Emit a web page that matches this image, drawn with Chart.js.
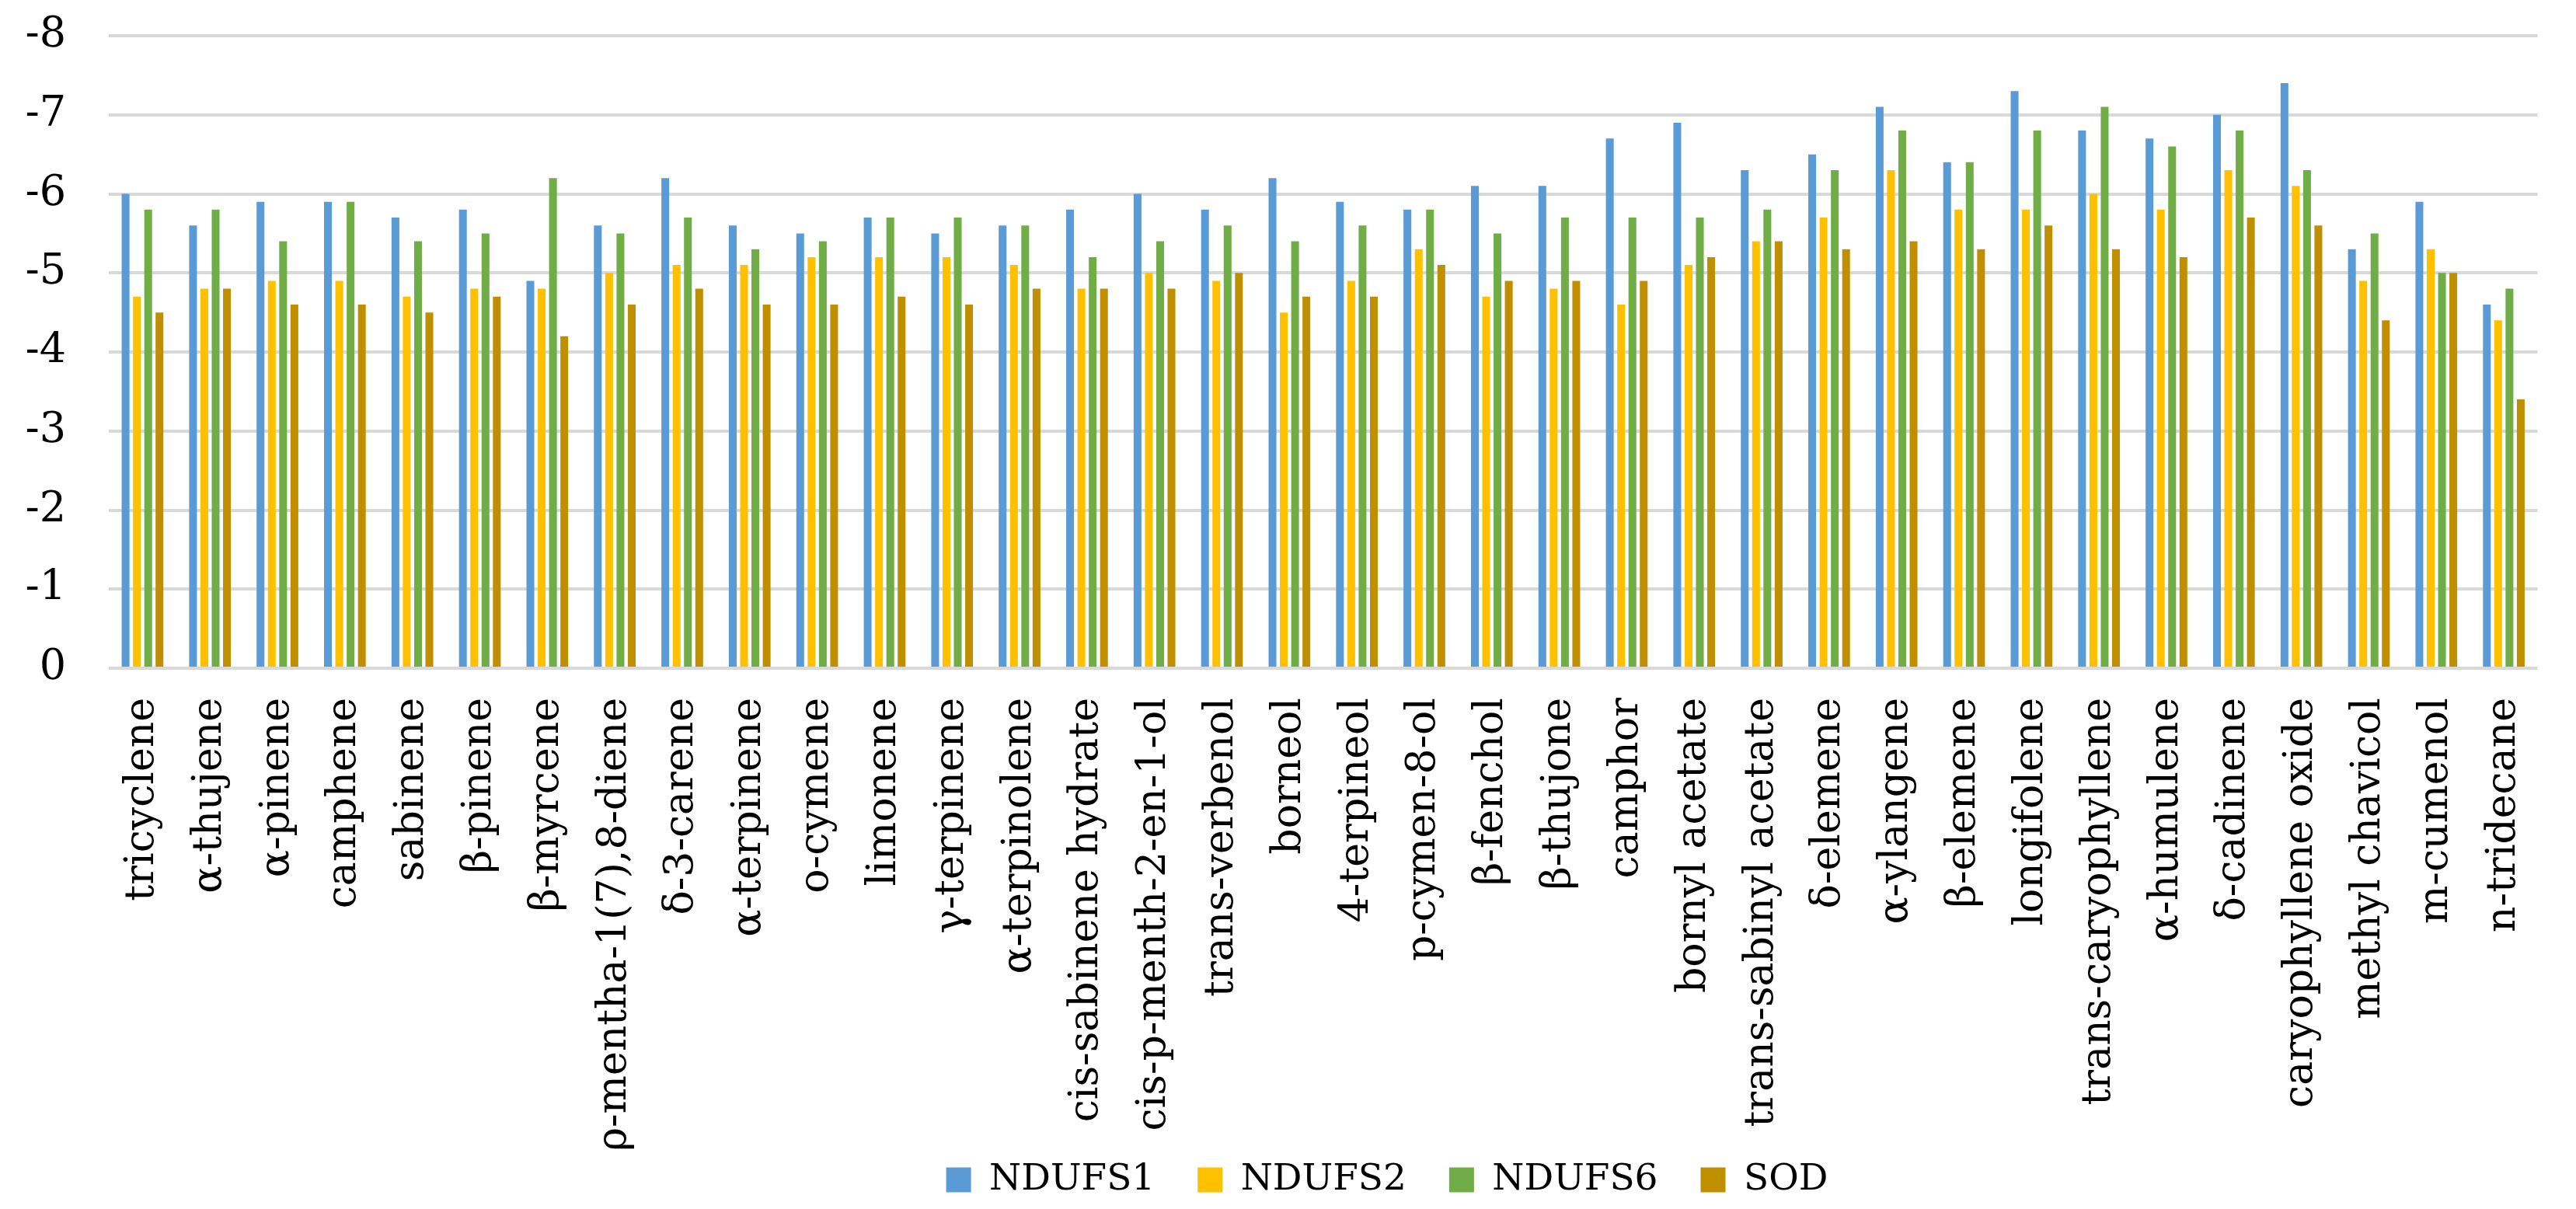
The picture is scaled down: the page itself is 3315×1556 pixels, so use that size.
<!DOCTYPE html>
<html>
<head>
<meta charset="utf-8">
<script src="https://cdn.jsdelivr.net/npm/chart.js@4"></script>
<style>
  html, body { margin: 0; padding: 0; background: #fff; }
  #wrap { width: 3315px; height: 1556px; }
</style>
</head>
<body>
<div id="wrap"><canvas id="myChart" width="3315" height="1556"></canvas></div>
<script>
// Compounds on the x axis
const compounds = [
  'tricyclene', 'α-thujene', 'α-pinene', 'camphene', 'sabinene', 'β-pinene',
  'β-myrcene', 'ρ-mentha-1(7),8-diene', 'δ-3-carene', 'α-terpinene', 'o-cymene',
  'limonene', 'γ-terpinene', 'α-terpinolene', 'cis-sabinene hydrate',
  'cis-p-menth-2-en-1-ol', 'trans-verbenol', 'borneol', '4-terpineol',
  'p-cymen-8-ol', 'β-fenchol', 'β-thujone', 'camphor', 'bornyl acetate',
  'trans-sabinyl acetate', 'δ-elemene', 'α-ylangene', 'β-elemene', 'longifolene',
  'trans-caryophyllene', 'α-humulene', 'δ-cadinene', 'caryophyllene oxide',
  'methyl chavicol', 'm-cumenol', 'n-tridecane'
];

// Binding energies
const ndufs1 = [-6.0, -5.6, -5.9, -5.9, -5.7, -5.8, -4.9, -5.6, -6.2, -5.6, -5.5, -5.7,
  -5.5, -5.6, -5.8, -6.0, -5.8, -6.2, -5.9, -5.8, -6.1, -6.1, -6.7, -6.9, -6.3, -6.5,
  -7.1, -6.4, -7.3, -6.8, -6.7, -7.0, -7.4, -5.3, -5.9, -4.6];
const ndufs2 = [-4.7, -4.8, -4.9, -4.9, -4.7, -4.8, -4.8, -5.0, -5.1, -5.1, -5.2, -5.2,
  -5.2, -5.1, -4.8, -5.0, -4.9, -4.5, -4.9, -5.3, -4.7, -4.8, -4.6, -5.1, -5.4, -5.7,
  -6.3, -5.8, -5.8, -6.0, -5.8, -6.3, -6.1, -4.9, -5.3, -4.4];
const ndufs6 = [-5.8, -5.8, -5.4, -5.9, -5.4, -5.5, -6.2, -5.5, -5.7, -5.3, -5.4, -5.7,
  -5.7, -5.6, -5.2, -5.4, -5.6, -5.4, -5.6, -5.8, -5.5, -5.7, -5.7, -5.7, -5.8, -6.3,
  -6.8, -6.4, -6.8, -7.1, -6.6, -6.8, -6.3, -5.5, -5.0, -4.8];
const sod = [-4.5, -4.8, -4.6, -4.6, -4.5, -4.7, -4.2, -4.6, -4.8, -4.6, -4.6, -4.7,
  -4.6, -4.8, -4.8, -4.8, -5.0, -4.7, -4.7, -5.1, -4.9, -4.9, -4.9, -5.2, -5.4, -5.3,
  -5.4, -5.3, -5.6, -5.3, -5.2, -5.7, -5.6, -4.4, -5.0, -3.4];

// Y axis tick labels, from -8 up to 0
const yTickLabels = ['-8', '-7', '-6', '-5', '-4', '-3', '-2', '-1', '0'];

const serif = '"DejaVu Serif", "Liberation Serif", serif';

// move the legend to where the original has it (right and a bit up)
const legendShift = {
  id: 'legendShift',
  afterLayout(chart) {
    chart.legend.left += 146;
    chart.legend.right += 146;
    chart.legend.top -= 60;
  }
};

const ctx = document.getElementById('myChart');

new Chart(ctx, {
  type: 'bar',
  plugins: [legendShift],
  data: {
    labels: compounds,
    datasets: [
      { label: 'NDUFS1', data: ndufs1, backgroundColor: '#5b9bd5' },
      { label: 'NDUFS2', data: ndufs2, backgroundColor: '#ffc000' },
      { label: 'NDUFS6', data: ndufs6, backgroundColor: '#70ad47' },
      { label: 'SOD', data: sod, backgroundColor: '#bf8f00' }
    ]
  },
  options: {
    responsive: false,
    animation: false,
    devicePixelRatio: 1,
    layout: {
      padding: { top: 46, right: 37, bottom: 0, left: 0 }
    },
    datasets: {
      bar: {
        categoryPercentage: 0.67,
        barPercentage: 0.69,
        borderWidth: 0
      }
    },
    scales: {
      y: {
        min: -8,
        max: 0,
        reverse: true, // 0 at the bottom, -8 at the top
        afterFit: scale => {
          scale.width = 140;
          // tick padding is meant for the horizontal gap only
          scale.paddingTop = 0;
          scale.paddingBottom = 0;
        },
        border: { display: false },
        grid: {
          color: '#d9d9d9',
          lineWidth: 4,
          drawTicks: false
        },
        ticks: {
          stepSize: 1,
          padding: 55,
          color: '#000',
          font: { family: serif, size: 54 },
          callback: value => yTickLabels[Math.round(value) + 8]
        }
      },
      x: {
        afterFit: scale => { scale.height = 640; },
        border: { display: false },
        grid: { display: false },
        ticks: {
          autoSkip: false,
          minRotation: 90,
          maxRotation: 90,
          padding: 30,
          color: '#000',
          font: { family: serif, size: 52 }
        }
      }
    },
    plugins: {
      legend: {
        position: 'bottom',
        maxHeight: 56,
        labels: {
          boxWidth: 32,
          boxHeight: 32,
          padding: 55,
          color: '#000',
          font: { family: serif, size: 47 }
        }
      },
      tooltip: { enabled: false }
    }
  }
});
</script>
</body>
</html>
